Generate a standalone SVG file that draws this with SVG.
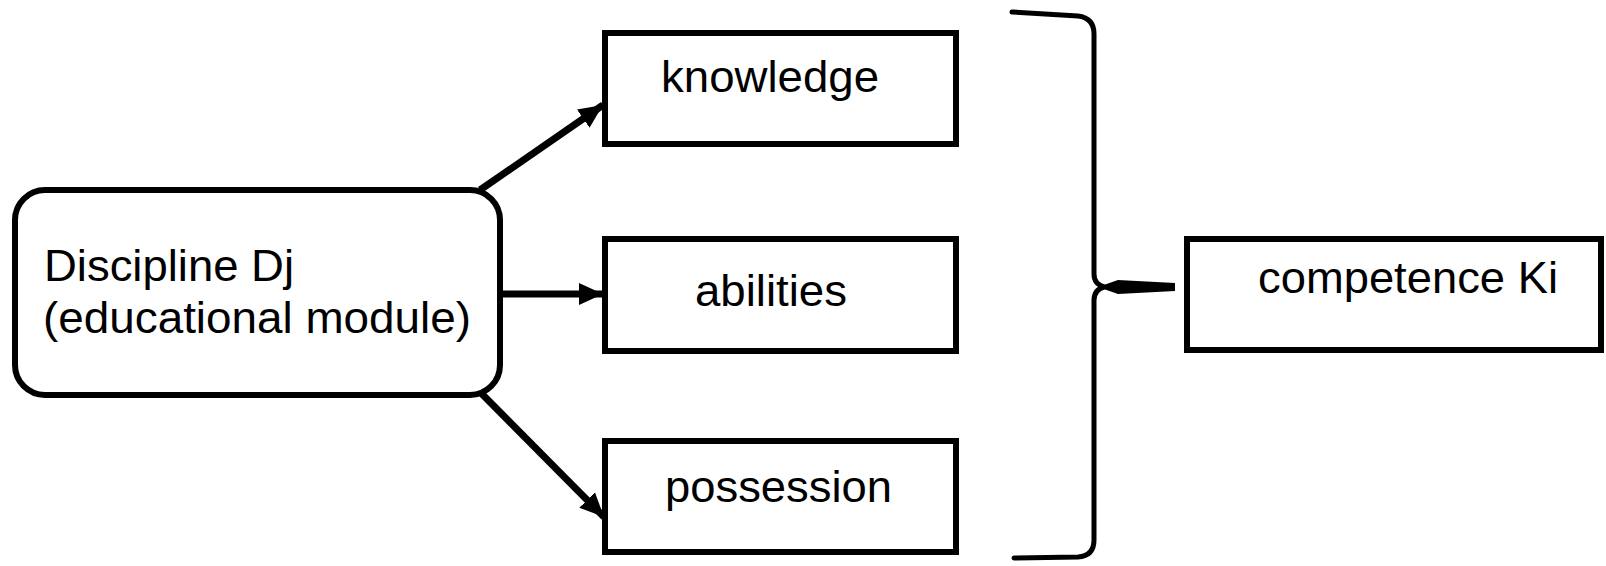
<svg xmlns="http://www.w3.org/2000/svg" width="1606" height="566" viewBox="0 0 1606 566">
  <defs>
    <marker id="arrow" markerUnits="userSpaceOnUse" markerWidth="26" markerHeight="24" refX="24" refY="12" orient="auto">
      <path d="M0,1 L24,12 L0,23 Z" fill="#000"/>
    </marker>
    <style>
      .box { fill: #fff; stroke: #000; stroke-width: 6; }
      .lbl { font-family: "Liberation Sans", Arial, sans-serif; font-size: 44px; fill: #000; }
      .conn { stroke: #000; stroke-width: 7; fill: none; }
      .brace { stroke: #000; stroke-width: 5; fill: none; stroke-linecap: round; stroke-linejoin: round; }
    </style>
  </defs>
  <rect width="1606" height="566" fill="#fff"/>

  <g id="connectors">
    <line class="conn" x1="480" y1="190" x2="603" y2="105" marker-end="url(#arrow)"/>
    <line class="conn" x1="500" y1="294" x2="603" y2="294" marker-end="url(#arrow)"/>
    <line class="conn" x1="482" y1="394" x2="604" y2="517" marker-end="url(#arrow)"/>
  </g>

  <g id="discipline">
    <rect class="box" x="15" y="190" width="485" height="205" rx="30" ry="30"/>
    <text class="lbl" x="44" y="281" textLength="250" lengthAdjust="spacingAndGlyphs">Discipline Dj</text>
    <text class="lbl" x="43" y="333" textLength="428" lengthAdjust="spacingAndGlyphs">(educational module)</text>
  </g>

  <g id="knowledge">
    <rect class="box" x="605" y="33" width="351" height="111"/>
    <text class="lbl" x="661" y="92" textLength="218" lengthAdjust="spacingAndGlyphs">knowledge</text>
  </g>

  <g id="abilities">
    <rect class="box" x="605" y="239" width="351" height="112"/>
    <text class="lbl" x="695" y="306" textLength="152" lengthAdjust="spacingAndGlyphs">abilities</text>
  </g>

  <g id="possession">
    <rect class="box" x="605" y="441" width="351" height="111"/>
    <text class="lbl" x="665" y="502" textLength="227" lengthAdjust="spacingAndGlyphs">possession</text>
  </g>

  <g id="brace">
    <path class="brace" d="M1012,12 L1078,16 Q1094,18 1094,34 V274 Q1094,284 1104,287 Q1094,290 1094,300 V540 Q1094,556 1078,557 L1014,558"/>
    <path d="M1098,287 L1118,280 L1175,283 L1175,291 L1118,294 Z" fill="#000"/>
  </g>

  <g id="competence">
    <rect class="box" x="1187" y="239" width="414" height="111"/>
    <text class="lbl" x="1258" y="293" textLength="300" lengthAdjust="spacingAndGlyphs">competence Ki</text>
  </g>
</svg>
